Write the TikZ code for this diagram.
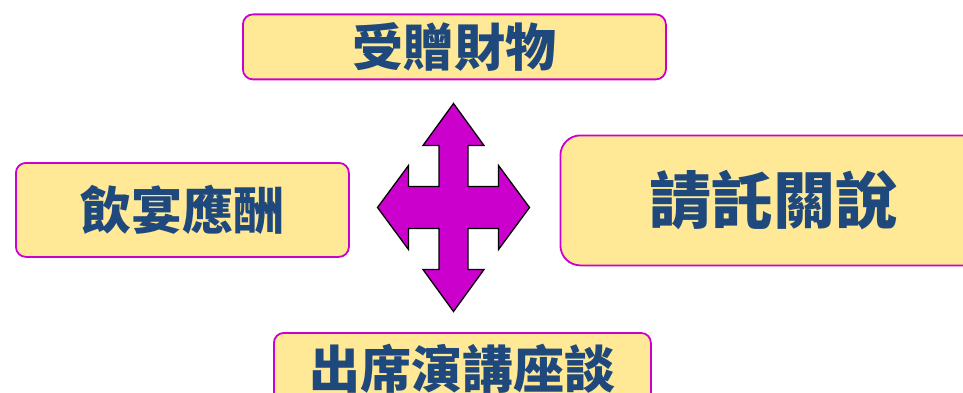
\documentclass[tikz,border=0pt]{standalone}
\usepackage{fontspec}
\newfontfamily\cjk{Noto Sans CJK TC}
\definecolor{boxfill}{RGB}{255,233,150}
\definecolor{boxline}{RGB}{204,0,204}
\definecolor{txtblue}{RGB}{31,73,125}
\newcommand{\lowered}[2]{\raisebox{-#1}{#2}}
\tikzset{
  labelbox/.style={draw=boxline, fill=boxfill, line width=1.8pt, rounded corners=#1,
    text=txtblue, font=\cjk\bfseries\fontsize{51}{54}\selectfont, inner sep=0pt, anchor=north west},
  labelbox/.default=10pt,
  crossarrow/.style={fill=boxline, draw=black, line width=1.3pt, line join=miter}
}
\begin{document}
\begin{tikzpicture}[x=1pt,y=-1pt]
\useasboundingbox (0,0) rectangle (963,393);
\clip (0,0) rectangle (963,393);
% boxes
\node[labelbox, minimum width=423pt, minimum height=65pt] (top) at (242,13.5) {\lowered{2.5pt}{受贈財物}};
\node[labelbox, minimum width=333pt, minimum height=94pt] (left) at (15,162) {\lowered{2.5pt}{飲宴應酬}};
\node[labelbox=20pt, minimum width=426pt, minimum height=130pt,
      font=\cjk\bfseries\fontsize{62}{65}\selectfont] (right) at (559.5,134.5) {\lowered{3pt}{請託關說}};
\node[labelbox, minimum width=377pt, minimum height=72pt] (bottom) at (273,332) {出席演講座談};
% four-way arrow
\begin{scope}[shift={(453.5,207.5)}]
\draw[crossarrow] (0,-104) -- (30.5,-62) -- (14.5,-62) -- (14.5,-21) -- (45,-21) -- (45,-42)
  -- (76,0) -- (45,42) -- (45,21) -- (14.5,21) -- (14.5,62) -- (30.5,62) -- (0,104)
  -- (-30.5,62) -- (-14.5,62) -- (-14.5,21) -- (-45,21) -- (-45,42) -- (-76,0)
  -- (-45,-42) -- (-45,-21) -- (-14.5,-21) -- (-14.5,-62) -- (-30.5,-62) -- cycle;
\end{scope}
\end{tikzpicture}
\end{document}
